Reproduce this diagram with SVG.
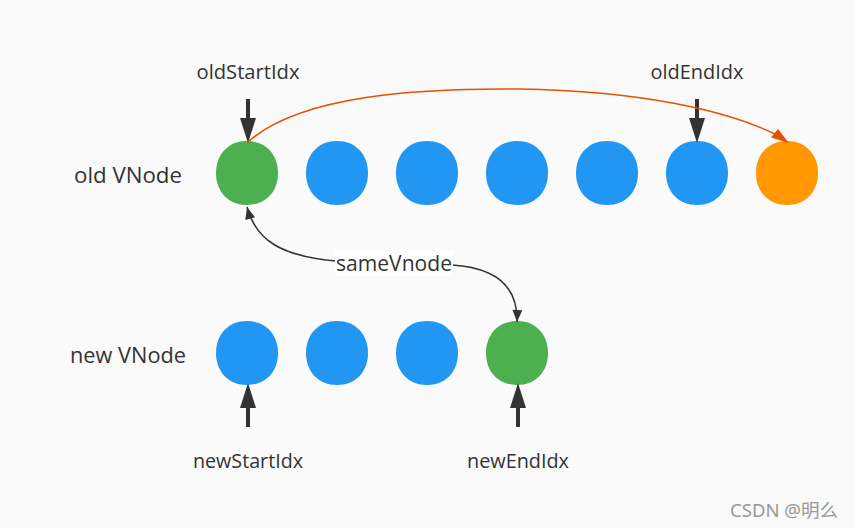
<svg xmlns="http://www.w3.org/2000/svg" width="855" height="528" viewBox="0 0 855 528">
<defs>
<style>
.t{font-family:"Segoe UI","Open Sans","Noto Sans",sans-serif;font-size:20px;fill:#333;}
.row{font-size:21px;}
.blue{fill:#2196f3;}
.green{fill:#4caf50;}
.orange{fill:#ff9800;}
.link{stroke:#333;stroke-width:1.5;fill:none;}
.wm{font-family:"Noto Sans","Noto Sans CJK SC",sans-serif;font-size:18px;fill:#999;}
</style>
<path id="blob" d="M0,-32 C18.3,-32 31,-19 31,0 C31,19 18.3,32 0,32 C-18.3,32 -31,19 -31,0 C-31,-19 -18.3,-32 0,-32 Z"/>
<marker id="sm" viewBox="0 0 12 10" refX="12" refY="5" markerWidth="13" markerHeight="10" markerUnits="userSpaceOnUse" orient="auto">
<path d="M0,0 L12,5 L0,10 Z" fill="#333"/>
</marker>
</defs>
<rect width="855" height="528" fill="#fafafa"/>

<text class="t row" x="74" y="183" textLength="108" lengthAdjust="spacingAndGlyphs">old VNode</text>
<text class="t row" x="70" y="363" textLength="116" lengthAdjust="spacingAndGlyphs">new VNode</text>

<g id="old0"><use href="#blob" class="green" x="247" y="173"/></g>
<g id="old1"><use href="#blob" class="blue" x="337" y="173"/></g>
<g id="old2"><use href="#blob" class="blue" x="427" y="173"/></g>
<g id="old3"><use href="#blob" class="blue" x="517" y="173"/></g>
<g id="old4"><use href="#blob" class="blue" x="607" y="173"/></g>
<g id="old5"><use href="#blob" class="blue" x="697" y="173"/></g>
<g id="old6"><use href="#blob" class="orange" x="787" y="173"/></g>

<g id="new0"><use href="#blob" class="blue" x="247" y="353"/></g>
<g id="new1"><use href="#blob" class="blue" x="337" y="353"/></g>
<g id="new2"><use href="#blob" class="blue" x="427" y="353"/></g>
<g id="new3"><use href="#blob" class="green" x="517" y="353"/></g>

<g id="labels">
<text class="t" x="248" y="79" text-anchor="middle" textLength="103" lengthAdjust="spacingAndGlyphs">oldStartIdx</text>
<text class="t" x="697" y="79" text-anchor="middle" textLength="93" lengthAdjust="spacingAndGlyphs">oldEndIdx</text>
<text class="t" x="248" y="468" text-anchor="middle" textLength="110" lengthAdjust="spacingAndGlyphs">newStartIdx</text>
<text class="t" x="518" y="468" text-anchor="middle" textLength="102" lengthAdjust="spacingAndGlyphs">newEndIdx</text>
</g>

<g id="connectors">
<path d="M248,99 V130" stroke="#333" stroke-width="4" fill="none"/>
<path d="M240,118 L256,118 L248,143 Z" fill="#333"/>
<path d="M697,99 V130" stroke="#333" stroke-width="4" fill="none"/>
<path d="M689,118 L705,118 L697,143 Z" fill="#333"/>
<path d="M248,427 V396" stroke="#333" stroke-width="4" fill="none"/>
<path d="M240,408 L256,408 L248,383 Z" fill="#333"/>
<path d="M518,427 V396" stroke="#333" stroke-width="4" fill="none"/>
<path d="M510,408 L526,408 L518,383 Z" fill="#333"/>

<path d="M248,142 C300,95 420,88 520,89 C640,91 725,110 775,134" stroke="#e65100" stroke-width="1.5" fill="none"/>
<path d="M789,143 L771,137.5 L778,129 Z" fill="#e65100"/>

<path d="M336,261 C280,256 256,240 247,207" class="link" marker-end="url(#sm)"/>
<path d="M452,265 C500,268 518,290 517,322" class="link" marker-end="url(#sm)"/>
<rect x="335" y="250" width="118" height="26" fill="#fff"/>
<text class="t row" x="394" y="271" text-anchor="middle" textLength="116" lengthAdjust="spacingAndGlyphs">sameVnode</text>
</g>

<text class="wm" x="730" y="517" textLength="108" lengthAdjust="spacingAndGlyphs">CSDN @明么</text>
</svg>
